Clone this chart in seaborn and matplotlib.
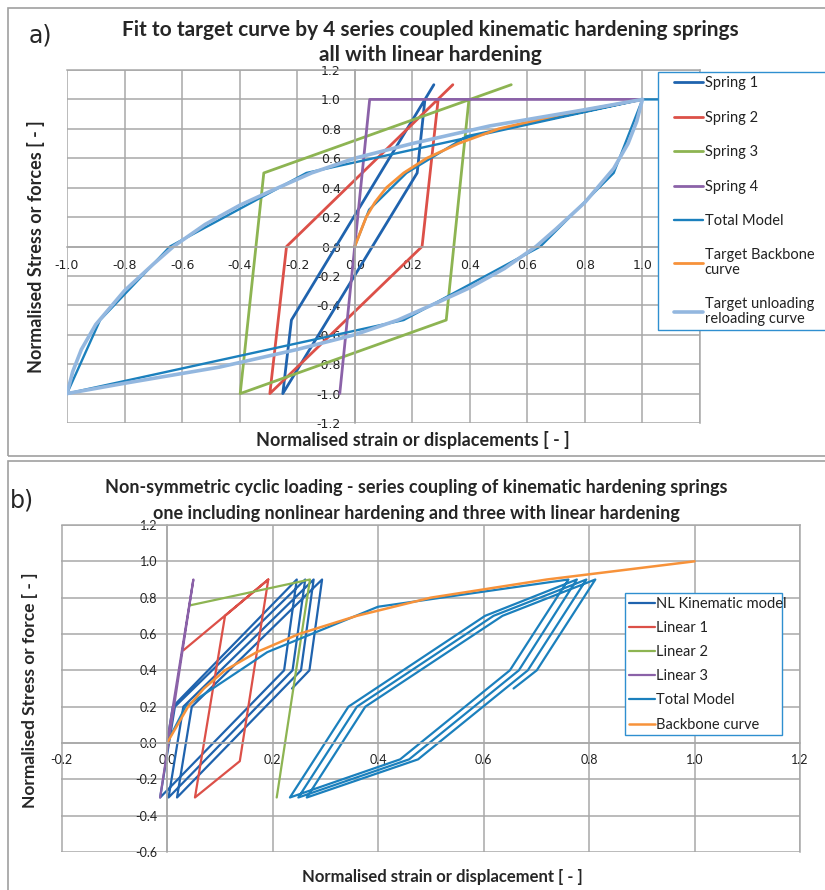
import matplotlib
matplotlib.use("Agg")
import matplotlib.pyplot as plt
import seaborn as sns
from matplotlib.patches import Rectangle
from matplotlib.legend_handler import HandlerLine2D

# ---------------- Panel a data ----------------
spring1_x = [0.244, 0.217, -0.250, -0.220, 0.275]
spring1_y = [1.0, 0.5, -1.0, -0.5, 1.1]
spring2_x = [0.290, 0.234, -0.295, -0.237, 0.341]
spring2_y = [1.0, 0.0, -1.0, 0.0, 1.1]
spring3_x = [0.397, 0.318, -0.398, -0.316, 0.544]
spring3_y = [1.0, -0.5, -1.0, 0.5, 1.1]
spring4_x = [-0.052, 0.052, 1.0]
spring4_y = [-1.0, 1.0, 1.0]
total_a_x = [0.0, 0.05, 0.18, 0.39, 1.0, 0.90, 0.645, 0.17, -1.0, -0.885, -0.642, -0.168, 1.0, 1.2]
total_a_y = [0.0, 0.25, 0.5, 0.75, 1.0, 0.5, 0.0, -0.5, -1.0, -0.5, 0.0, 0.5, 1.0, 1.0]
backbone_a_x = [0.0, 0.02, 0.04, 0.07, 0.11, 0.17, 0.25, 0.36, 0.50, 0.72, 1.0]
backbone_a_y = [0.0, 0.1, 0.2, 0.3, 0.4, 0.5, 0.6, 0.7, 0.8, 0.9, 1.0]
unload_x = [1.0, 0.98, 0.95, 0.90, 0.80, 0.70, 0.63, 0.52, 0.40, 0.30, 0.15, 0.0, -0.2, -0.47, -0.8, -1.0]
unload_y = [1.0, 0.85, 0.70, 0.53, 0.30, 0.12, 0.0, -0.15, -0.28, -0.37, -0.5, -0.6, -0.7, -0.82, -0.93, -1.0]
reload_x = [-1.0, -0.98, -0.95, -0.90, -0.80, -0.70, -0.63, -0.52, -0.40, -0.30, -0.15, 0.0, 0.2, 0.47, 0.8, 1.0]
reload_y = [-1.0, -0.85, -0.70, -0.53, -0.30, -0.12, 0.0, 0.15, 0.28, 0.37, 0.5, 0.6, 0.7, 0.82, 0.93, 1.0]

labels_a = ["Spring 1", "Spring 2", "Spring 3", "Spring 4", "Total Model",
            "Target Backbone\ncurve", "Target unloading\nreloading curve"]

# ---------------- Panel b data ----------------
nl_x = [0.000, 0.011, 0.246, 0.222, -0.013, 0.015, 0.262, 0.238, 0.003, 0.031,
        0.278, 0.254, 0.019, 0.047, 0.294, 0.270, 0.237]
nl_y = [0.0, 0.2, 0.9, 0.4, -0.3, 0.2, 0.9, 0.4, -0.3, 0.2,
        0.9, 0.4, -0.3, 0.2, 0.9, 0.4, 0.3]
lin1_x = [0.031, 0.192, 0.138, 0.053, 0.110, 0.192]
lin1_y = [0.51, 0.9, -0.1, -0.3, 0.7, 0.9]
lin2_x = [0.044, 0.271, 0.208]
lin2_y = [0.758, 0.9, -0.3]
lin3_x = [0.0, 0.050, -0.013]
lin3_y = [0.0, 0.9, -0.3]
total_b_x = [0.0, 0.035, 0.19, 0.40, 0.761,
             0.650, 0.442, 0.233, 0.344, 0.603, 0.777,
             0.667, 0.459, 0.249, 0.360, 0.619, 0.795,
             0.684, 0.476, 0.265, 0.376, 0.636, 0.812,
             0.701, 0.657]
total_b_y = [0.0, 0.2, 0.5, 0.75, 0.9,
             0.4, -0.09, -0.3, 0.2, 0.7, 0.9,
             0.4, -0.09, -0.3, 0.2, 0.7, 0.9,
             0.4, -0.09, -0.3, 0.2, 0.7, 0.9,
             0.4, 0.3]
backbone_b_x = [0.0, 0.02, 0.04, 0.07, 0.11, 0.17, 0.25, 0.36, 0.50, 0.72, 1.0]
backbone_b_y = [0.0, 0.1, 0.2, 0.3, 0.4, 0.5, 0.6, 0.7, 0.8, 0.9, 1.0]

labels_b = ["NL Kinematic model", "Linear 1", "Linear 2", "Linear 3", "Total Model", "Backbone curve"]

ticks_a_x = [-1.0, -0.8, -0.6, -0.4, -0.2, 0.0, 0.2, 0.4, 0.6, 0.8, 1.0, 1.2]
ticks_a_y = [-1.2, -1.0, -0.8, -0.6, -0.4, -0.2, 0.0, 0.2, 0.4, 0.6, 0.8, 1.0, 1.2]
ticks_b_x = [-0.2, 0.0, 0.2, 0.4, 0.6, 0.8, 1.0, 1.2]
ticks_b_y = [-0.6, -0.4, -0.2, 0.0, 0.2, 0.4, 0.6, 0.8, 1.0, 1.2]

# ---------------- styles ----------------
C_S1 = "#1F63AE"
C_RED = "#DC5048"
C_GREEN = "#8DB452"
C_PURPLE = "#8B62A8"
C_TOTAL = "#1B80BD"
C_ORANGE = "#F7923A"
C_LBLUE = "#93B7DF"
GRID = "#A8A8A8"
LEG_EDGE = "#2F8FD0"

sns.set_theme(style="white")
plt.rcParams["font.family"] = ["Lato", "DejaVu Sans"]
plt.rcParams["axes.unicode_minus"] = False

W, H = 825, 890
fig = plt.figure(figsize=(W / 100, H / 100), dpi=100)

# panel frames
fig.add_artist(Rectangle((8 / W, 1 - 456 / H), 830 / W, 448 / H, transform=fig.transFigure,
                         fill=False, edgecolor="#A0A0A0", lw=1.2))
fig.add_artist(Rectangle((8 / W, -0.05), 830 / W, (0.05 + 1 - 461 / H), transform=fig.transFigure,
                         fill=False, edgecolor="#A0A0A0", lw=1.2))


def line(ax, x, y, color, lw):
    sns.lineplot(x=x, y=y, sort=False, estimator=None, color=color, lw=lw, ax=ax, legend=False)
    return ax.lines[-1]


def style_axes(ax, xt, yt, family, size, xpad, ypad, hide_last_x=False):
    ax.set_xlim(xt[0], xt[-1])
    ax.set_ylim(yt[0], yt[-1])
    ax.set_xticks(xt)
    ax.set_yticks(yt)
    xl = [f"{v:.1f}" for v in xt]
    if hide_last_x:
        xl[-1] = ""  # covered by the legend in the original
    ax.set_xticklabels(xl)
    ax.set_yticklabels([f"{v:.1f}" for v in yt])
    ax.grid(True, color=GRID, lw=1.1)
    ax.set_axisbelow(True)
    for s in ax.spines.values():
        s.set_color(GRID)
        s.set_linewidth(1.1)
    ax.spines["left"].set_position(("data", 0))
    ax.spines["bottom"].set_position(("data", 0))
    ax.tick_params(axis="x", length=0, pad=xpad, labelsize=size, labelcolor="#222222",
                   labelfontfamily=family)
    ax.tick_params(axis="y", length=0, pad=ypad, labelsize=size, labelcolor="#222222",
                   labelfontfamily=family)
    ax.set_xlabel("")
    ax.set_ylabel("")


# ---------------- Panel a ----------------
ax1 = fig.add_axes([67 / W, 1 - 423 / H, 633 / W, 353 / H])
h = []
h.append(line(ax1, spring1_x, spring1_y, C_S1, 2.0))
h.append(line(ax1, spring2_x, spring2_y, C_RED, 2.0))
h.append(line(ax1, spring3_x, spring3_y, C_GREEN, 2.0))
h.append(line(ax1, spring4_x, spring4_y, C_PURPLE, 2.0))
h.append(line(ax1, total_a_x, total_a_y, C_TOTAL, 1.7))
h.append(line(ax1, backbone_a_x, backbone_a_y, C_ORANGE, 2.0))
lb = line(ax1, unload_x, unload_y, C_LBLUE, 2.6)
line(ax1, reload_x, reload_y, C_LBLUE, 2.6)
h.append(lb)
style_axes(ax1, ticks_a_x, ticks_a_y, "DejaVu Sans", 9, 9, 10, hide_last_x=True)
hmap1 = {hh: HandlerLine2D(xpad=0.8) for hh in h}
leg1 = ax1.legend(h, labels_a, loc="upper left",
                  bbox_to_anchor=(658 / W, 1 - 322 / H, 200 / W, 250 / H),
                  bbox_transform=fig.transFigure, mode="expand", borderaxespad=0,
                  frameon=True, fancybox=False, framealpha=1, edgecolor=LEG_EDGE,
                  fontsize=10.5, handlelength=2.8, handletextpad=0.1,
                  labelspacing=1.4, borderpad=0.3, handler_map=hmap1)
leg1.get_frame().set_linewidth(1.0)
for t in leg1.get_texts():
    t.set_color("#222222")
    t.set_linespacing(1.05)

fig.text(40 / W, 1 - 36 / H, "a)", fontsize=17, family="DejaVu Sans", ha="center", va="center")
fig.text(430 / W, 1 - 30 / H, "Fit to target curve by 4 series coupled kinematic hardening springs",
         fontsize=15, weight="bold", ha="center", va="center")
fig.text(430 / W, 1 - 55 / H, "all with linear hardening",
         fontsize=15, weight="bold", ha="center", va="center")
fig.text(413 / W, 1 - 440 / H, "Normalised strain or displacements [ - ]",
         fontsize=13, weight="bold", ha="center", va="center")
fig.text(36 / W, 1 - 247 / H, "Normalised Stress or forces [ - ]",
         fontsize=13, weight="bold", ha="center", va="center", rotation=90)

# ---------------- Panel b ----------------
ax2 = fig.add_axes([61.5 / W, 1 - 852 / H, 738.5 / W, 327 / H])
hb = []
hb.append(line(ax2, nl_x, nl_y, C_S1, 1.6))
hb.append(line(ax2, lin1_x, lin1_y, C_RED, 1.6))
hb.append(line(ax2, lin2_x, lin2_y, C_GREEN, 1.6))
hb.append(line(ax2, lin3_x, lin3_y, C_PURPLE, 1.6))
hb.append(line(ax2, total_b_x, total_b_y, C_TOTAL, 1.6))
hb.append(line(ax2, backbone_b_x, backbone_b_y, C_ORANGE, 1.8))
style_axes(ax2, ticks_b_x, ticks_b_y, "Lato", 9, 8, 7)
leg2 = ax2.legend(hb, labels_b, loc="upper left",
                  bbox_to_anchor=(625 / W, 1 - 737 / H, 157 / W, 144 / H),
                  bbox_transform=fig.transFigure, mode="expand", borderaxespad=0,
                  frameon=True, fancybox=False, framealpha=1, edgecolor=LEG_EDGE,
                  fontsize=10.5, handlelength=1.8, handletextpad=0.1,
                  labelspacing=0.7, borderpad=0.25)
leg2.get_frame().set_linewidth(1.0)
for t in leg2.get_texts():
    t.set_color("#222222")

fig.text(22 / W, 1 - 500 / H, "b)", fontsize=17, family="DejaVu Sans", ha="center", va="center")
fig.text(416 / W, 1 - 488 / H,
         "Non-symmetric cyclic loading - series coupling of kinematic hardening springs",
         fontsize=13, weight="bold", ha="center", va="center")
fig.text(416 / W, 1 - 513 / H,
         "one including nonlinear hardening and three with linear hardening",
         fontsize=13, weight="bold", ha="center", va="center")
fig.text(442 / W, 1 - 877 / H, "Normalised strain or displacement [ - ]",
         fontsize=12, weight="bold", ha="center", va="center")
fig.text(30 / W, 1 - 690 / H, "Normalised Stress or force [ - ]",
         fontsize=12.5, weight="bold", ha="center", va="center", rotation=90)

fig.savefig("out.png", dpi=100)
